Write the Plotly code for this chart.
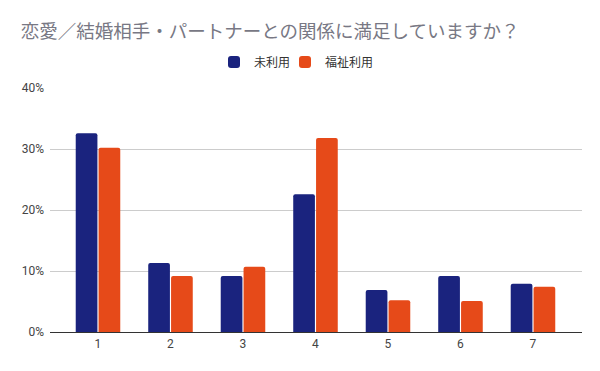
import plotly.graph_objects as go

categories = [1, 2, 3, 4, 5, 6, 7]
tick_labels = ["1", "2", "3", "4", "5", "6", "7"]
unused = [0.326, 0.113, 0.092, 0.226, 0.069, 0.092, 0.079]
welfare = [0.302, 0.092, 0.107, 0.318, 0.052, 0.051, 0.074]
series_names = ["未利用", "福祉利用"]
colors = ["#1a237e", "#e64a19"]
legend_ids = ["legend", "legend2"]

FONT = "Roboto, 'Noto Sans CJK JP', sans-serif"

fig = go.Figure()
for name, vals, col, lg in zip(series_names, [unused, welfare], colors, legend_ids):
    fig.add_trace(go.Bar(x=categories, y=vals, name=name, legend=lg, showlegend=True,
                         marker=dict(color=col, line=dict(width=0))))

# the page body has an 8px margin: figure coords = page coords - 8
W, H = 600, 371
L, R, T, B = 42, 26, 80, 47
pw = W - L - R
ph = H - T - B

leg_common = dict(orientation="h", yanchor="middle", y=(H - B - 54) / ph,
                  xanchor="left", font=dict(family=FONT, size=12, color="#333333"),
                  itemwidth=30, bgcolor="rgba(0,0,0,0)")

fig.update_layout(
    width=W, height=H,
    showlegend=True,
    margin=dict(l=L, r=R, t=T, b=B, autoexpand=False),
    paper_bgcolor="white", plot_bgcolor="white",
    barmode="group", bargap=0.37, bargroupgap=0.05, barcornerradius=2,
    font=dict(family=FONT, size=12, color="#444444"),
    title=dict(text="恋愛／結婚相手・パートナーとの関係に満足していますか？",
               x=12.7 / W, xanchor="left", y=1 - 23.5 / H, yanchor="middle",
               font=dict(family=FONT, size=18.5, color="#787884")),
    legend=dict(leg_common, x=(206 - L) / pw),
    legend2=dict(leg_common, x=(277 - L) / pw),
    xaxis=dict(range=[0.338, 7.676], tickvals=categories, ticktext=tick_labels,
               showgrid=False, showline=False, zeroline=False, ticks="",
               ticklabelstandoff=3,
               tickfont=dict(size=12, color="#444444")),
    yaxis=dict(range=[0, 0.4], tickvals=[0, 0.1, 0.2, 0.3, 0.4], tickformat=".0%",
               showgrid=True, gridcolor="#cccccc", gridwidth=1,
               zeroline=True, zerolinecolor="#333333", zerolinewidth=1.2,
               ticks="", ticklabelstandoff=5,
               tickfont=dict(size=12, color="#444444")),
)

fig.write_html("out.html")
